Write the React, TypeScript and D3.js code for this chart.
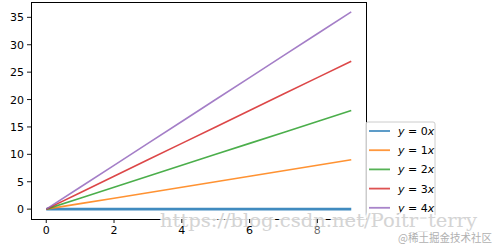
import React from "react";
import * as d3 from "d3";

const xValues = [0, 1, 2, 3, 4, 5, 6, 7, 8, 9];
const series0 = [0, 0, 0, 0, 0, 0, 0, 0, 0, 0];
const series1 = [0, 1, 2, 3, 4, 5, 6, 7, 8, 9];
const series2 = [0, 2, 4, 6, 8, 10, 12, 14, 16, 18];
const series3 = [0, 3, 6, 9, 12, 15, 18, 21, 24, 27];
const series4 = [0, 4, 8, 12, 16, 20, 24, 28, 32, 36];
const coefficients = ["0", "1", "2", "3", "4"];
const xTicks = [0, 2, 4, 6, 8];
const yTicks = [0, 5, 10, 15, 20, 25, 30, 35];
const colors = ["#1f77b4", "#ff7f0e", "#2ca02c", "#d62728", "#9467bd"];

const allSeries = [series0, series1, series2, series3, series4];

export default function App() {
  const W = 496, H = 250;
  const left = 31, right = 366.5, top = 2, bottom = 219;
  const x = d3.scaleLinear().domain([-0.45, 9.45]).range([left, right]);
  const y = d3.scaleLinear().domain([-1.8, 37.8]).range([bottom, top]);
  const line = d3.line<[number, number]>().x(d => x(d[0])).y(d => y(d[1]));
  const font = "'DejaVu Sans', sans-serif";

  const legX = 366, legY = 122, legW = 69, legH = 96;
  const rowY = (i: number) => 131 + i * 19.2;

  return (
    <svg width={W} height={H} style={{ position: "absolute", left: 0, top: 0, background: "#fff" }}>
      <rect x={0} y={0} width={W} height={H} fill="#fff" />
      {allSeries.map((s, i) => (
        <path
          key={i}
          d={line(s.map((v, j) => [xValues[j], v]) as [number, number][]) || ""}
          fill="none"
          stroke={colors[i]}
          strokeWidth={i === 0 ? 2.6 : 1.6}
          opacity={0.85}
        />
      ))}
      {/* spines */}
      <rect x={left} y={top} width={right - left} height={bottom - top} fill="none" stroke="#000" strokeWidth={1} shapeRendering="crispEdges" />
      {yTicks.map(t => (
        <g key={t}>
          <line x1={left - 4} x2={left} y1={y(t)} y2={y(t)} stroke="#000" strokeWidth={0.9} />
          <text x={left - 7} y={y(t) + 4} fontFamily={font} fontSize={11} textAnchor="end" fill="#000">{t}</text>
        </g>
      ))}
      {/* legend */}
      <rect x={legX} y={legY} width={legW} height={legH} rx={2} fill="#fff" fillOpacity={0.8} stroke="#ccc" strokeWidth={1} />
      {coefficients.map((c, i) => (
        <g key={c}>
          <line x1={369} x2={390} y1={rowY(i)} y2={rowY(i)} stroke={colors[i]} strokeWidth={1.8} opacity={0.8} />
          <text x={398} y={rowY(i) + 4} fontFamily={font} fontSize={11} fill="#000">
            <tspan fontStyle="italic">y</tspan>
            <tspan> = {c}</tspan>
            <tspan fontStyle="italic">x</tspan>
          </text>
        </g>
      ))}
      {/* watermarks */}
      <text
        x={160}
        y={227}
        fontFamily="'DejaVu Serif', 'Liberation Serif', serif"
        fontSize={19}
        textLength={317}
        lengthAdjust="spacingAndGlyphs"
        fill="#d4d4d4"
        stroke="#fff"
        strokeWidth={4}
        strokeOpacity={0.85}
        paintOrder="stroke"
      >https://blog.csdn.net/Poitr_terry</text>
      {xTicks.map(t => (
        <g key={t}>
          <line x1={x(t)} x2={x(t)} y1={bottom} y2={bottom + 4} stroke="#000" strokeWidth={0.9} />
          <text x={x(t)} y={bottom + 15} fontFamily={font} fontSize={11} textAnchor="middle" fill="#000" fillOpacity={t === 8 ? 0.6 : 1}>{t}</text>
        </g>
      ))}
      <text
        x={398}
        y={242}
        fontFamily="'Noto Sans CJK SC', sans-serif"
        fontSize={11}
        textLength={94}
        lengthAdjust="spacingAndGlyphs"
        fill="#b0b0b0"
      >@稀土掘金技术社区</text>
    </svg>
  );
}
